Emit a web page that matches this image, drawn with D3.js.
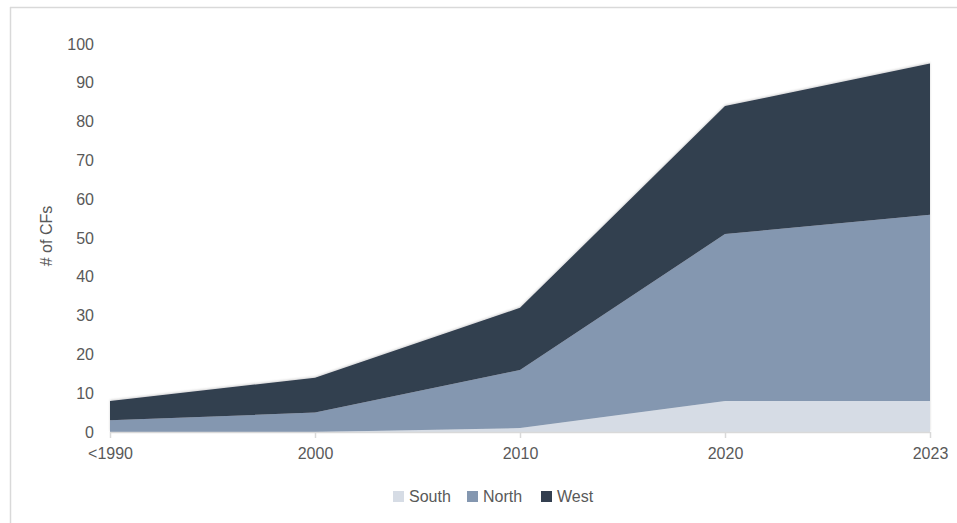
<!DOCTYPE html>
<html>
<head>
<meta charset="utf-8">
<script src="https://cdn.jsdelivr.net/npm/d3@7"></script>
<style>
  body { margin: 0; background: #fff; }
  svg { display: block; font-family: 'Liberation Sans', Arial, sans-serif; }
</style>
</head>
<body>
<svg width="957" height="523"></svg>
<script>
const categories = ['<1990', '2000', '2010', '2020', '2023'];
const south = [0, 0, 1, 8, 8];
const north = [3, 5, 15, 43, 48];
const west = [5, 9, 16, 33, 39];
const seriesNames = ['South', 'North', 'West'];
const colors = ['#d6dce5', '#8497b0', '#333f50'];
const yTicks = [0, 10, 20, 30, 40, 50, 60, 70, 80, 90, 100];

const svg = d3.select('svg');
const textColor = '#595959';

// frame (only top/left visible in the crop)
svg.append('line').attr('x1', 10).attr('y1', 7.5).attr('x2', 957).attr('y2', 7.5)
    .attr('stroke', '#d9d9d9').attr('stroke-width', 1.5);
svg.append('line').attr('x1', 10.5).attr('y1', 7).attr('x2', 10.5).attr('y2', 523)
    .attr('stroke', '#d9d9d9').attr('stroke-width', 1.5);

const table = categories.map((c, i) => ({ cat: c, South: south[i], North: north[i], West: west[i] }));
const stacked = d3.stack().keys(seriesNames)(table);

const x = d3.scalePoint().domain(categories).range([110, 930]);
const y = d3.scaleLinear().domain([0, 100]).range([432, 44]);

const defs = svg.append('defs');
const f = defs.append('filter').attr('id', 'shadow').attr('x', '-5%').attr('y', '-5%').attr('width', '110%').attr('height', '110%');
f.append('feDropShadow').attr('dx', 0).attr('dy', -1).attr('stdDeviation', 1.2)
    .attr('flood-color', '#000').attr('flood-opacity', 0.18);

const area = d3.area()
    .x(d => x(d.data.cat))
    .y0(d => y(d[0]))
    .y1(d => y(d[1]));

svg.append('g')
    .attr('filter', 'url(#shadow)')
    .selectAll('path')
    .data(stacked)
    .enter()
    .append('path')
    .attr('d', area)
    .attr('fill', (d, i) => colors[i]);

// y axis labels, no line
const yAxis = svg.append('g')
    .attr('transform', 'translate(94,0)')
    .call(d3.axisLeft(y).tickValues(yTicks).tickSize(0).tickPadding(0));
yAxis.select('.domain').remove();
yAxis.selectAll('text').style('font-size', '16px').attr('fill', textColor);

// x axis
const xAxis = svg.append('g')
    .attr('transform', 'translate(0,432)')
    .call(d3.axisBottom(x).tickSize(6).tickPadding(10).tickSizeOuter(0));
xAxis.select('.domain').attr('stroke', '#d9d9d9').attr('stroke-width', 1.5)
    .attr('d', `M${x(categories[0])},0.5H${x(categories[categories.length - 1])}`);
xAxis.selectAll('line').attr('stroke', '#d9d9d9').attr('stroke-width', 1.5);
xAxis.selectAll('text').style('font-size', '16px').attr('fill', textColor);

svg.append('text')
    .attr('transform', 'translate(52,236) rotate(-90)')
    .attr('text-anchor', 'middle')
    .style('font-size', '16px')
    .attr('fill', textColor)
    .text('# of CFs');

// legend
const legendX = [393, 467, 541];
const legend = svg.append('g').selectAll('g')
    .data(seriesNames)
    .enter()
    .append('g')
    .attr('transform', (d, i) => `translate(${legendX[i]},491)`);
legend.append('rect').attr('width', 11).attr('height', 11).attr('fill', (d, i) => colors[i]);
legend.append('text')
    .attr('x', 16).attr('y', 11)
    .style('font-size', '16px')
    .attr('fill', textColor)
    .text(d => d);
</script>
</body>
</html>
